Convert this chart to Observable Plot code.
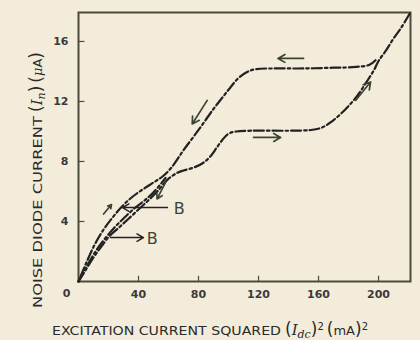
<!DOCTYPE html>
<html>
<head>
<meta charset="utf-8">
<script src="https://cdn.jsdelivr.net/npm/d3@7"></script>
<script src="https://cdn.jsdelivr.net/npm/@observablehq/plot@0.6"></script>
<style>
  html, body { margin: 0; padding: 0; background: #f3ecdb; }
  #chart { width: 420px; height: 340px; }
</style>
</head>
<body>
<div id="chart"></div>
<script>
// ---- data ----
const xTicks = [40, 80, 120, 160, 200];
const yTicks = [4, 8, 12, 16];

// outer loop, rising branch (lower plateau)
const ascX = [0, 5, 10, 15, 21, 27, 33, 40, 47, 53, 59, 65, 70, 77, 83, 88, 92, 96, 100, 105, 115, 140, 155, 162, 168, 174, 180, 186, 192, 197, 200, 205, 210, 215, 221];
const ascY = [0, 0.8, 1.6, 2.3, 3.07, 3.6, 4.15, 4.8, 5.45, 6.05, 6.75, 7.2, 7.4, 7.6, 7.9, 8.35, 8.9, 9.45, 9.85, 10.0, 10.05, 10.05, 10.1, 10.25, 10.6, 11.1, 11.7, 12.4, 13.3, 14.1, 14.7, 15.4, 16.2, 16.9, 17.9];

// outer loop, falling branch (upper plateau)
const descX = [198, 194, 185, 170, 150, 130, 118, 112, 106, 101, 97, 90, 80, 70, 62, 56, 50, 43, 36, 29, 23, 17, 11, 5, 0];
const descY = [14.75, 14.45, 14.3, 14.25, 14.2, 14.2, 14.15, 13.95, 13.5, 12.9, 12.4, 11.5, 10.1, 8.75, 7.6, 7.0, 6.6, 6.15, 5.65, 5.0, 4.3, 3.5, 2.5, 1.2, 0];

// inner curve B
const bX = [0, 6, 12, 18, 24, 30, 37, 44, 51, 58];
const bY = [0, 1.1, 2.1, 2.9, 3.6, 4.2, 4.85, 5.4, 6.05, 6.9];

// direction arrows
const arrX1 = [150, 116.7, 85.8, 184.7, 16.7, 58];
const arrY1 = [14.87, 9.6, 12.07, 12.07, 4.5, 6.6];
const arrX2 = [133, 134.7, 75.8, 194.7, 22, 52.4];
const arrY2 = [14.87, 9.6, 10.5, 13.3, 5.13, 5.5];

// "B" pointers
const bArrX1 = [59.3, 21.3];
const bArrY1 = [4.93, 2.93];
const bArrX2 = [29.3, 43.3];
const bArrY2 = [4.93, 2.93];
const bLabelX = [63.5, 45.5];
const bLabelY = [4.87, 2.87];
const bLabelText = ["B", "B"];

// ---- build tables ----
const rows = [
  ...ascX.map((x, i) => ({s: "asc", x, y: ascY[i]})),
  ...descX.map((x, i) => ({s: "desc", x, y: descY[i]})),
  ...bX.map((x, i) => ({s: "b", x, y: bY[i]}))
];
const arrows = arrX1.map((x1, i) => ({x1, y1: arrY1[i], x2: arrX2[i], y2: arrY2[i]}));
const bArrows = bArrX1.map((x1, i) => ({x1, y1: bArrY1[i], x2: bArrX2[i], y2: bArrY2[i]}));
const bLabels = bLabelX.map((x, i) => ({x, y: bLabelY[i], t: bLabelText[i]}));

const ink = "#222";
const olive = "#3c4434";

const chart = Plot.plot({
  width: 420,
  height: 340,
  marginLeft: 78,
  marginRight: 10,
  marginTop: 12,
  marginBottom: 59,
  x: {domain: [0, 221.3]},
  y: {domain: [0, 17.93]},
  style: {background: "#f3ecdb", fontFamily: "DejaVu Sans", fontSize: "11px", color: "#333"},
  marks: [
    Plot.ruleX(xTicks, {y1: 0, y2: 0.35, stroke: "#4b4b3c", strokeWidth: 1.2}),
    Plot.ruleY(yTicks, {x1: 0, x2: 4.3, stroke: "#4b4b3c", strokeWidth: 1.2}),
    Plot.frame({stroke: "#4b4b3c", strokeWidth: 2}),
    Plot.axisX(xTicks, {tickSize: 0, tickPadding: 9, label: null, fill: "#3a3a3a", fontWeight: "bold"}),
    Plot.axisY(yTicks, {tickSize: 0, tickPadding: 10, label: null, fill: "#3a3a3a", fontWeight: "bold"}),
    Plot.axisY([0], {tickSize: 0, tickPadding: 8, dy: 12, label: null, fill: "#3a3a3a", fontWeight: "bold"}),
    Plot.line(rows, {x: "x", y: "y", z: "s", stroke: ink, strokeWidth: 2.2, strokeDasharray: "10,3,2.5,3", curve: "catmull-rom"}),
    Plot.arrow(arrows, {x1: "x1", y1: "y1", x2: "x2", y2: "y2", stroke: olive, strokeWidth: 1.7, headLength: 7, insetStart: 0, insetEnd: 0}),
    Plot.arrow(bArrows, {x1: "x1", y1: "y1", x2: "x2", y2: "y2", stroke: ink, strokeWidth: 1.4, headLength: 8, insetStart: 0, insetEnd: 0}),
    Plot.text(bLabels, {x: "x", y: "y", text: "t", fontSize: 16, fill: olive, textAnchor: "start"})
  ]
});

document.getElementById("chart").appendChild(chart);

// ---- axis titles ----
const svg = d3.select(chart);
const xt = svg.append("text")
  .attr("x", 52).attr("y", 335)
  .attr("text-anchor", "start")
  .attr("fill", "#2a2a2a")
  .style("font-family", "DejaVu Sans")
  .style("font-size", "12.5px");
xt.append("tspan").attr("textLength", 229).attr("lengthAdjust", "spacingAndGlyphs").text("EXCITATION CURRENT SQUARED");
xt.append("tspan").attr("dx", 4).style("font-size", "17px").text("(");
xt.append("tspan").style("font-family", "DejaVu Serif").style("font-style", "italic").style("font-size", "15px").text("I");
xt.append("tspan").attr("dy", 3).style("font-family", "DejaVu Serif").style("font-style", "italic").style("font-size", "11px").text("dc");
xt.append("tspan").attr("dy", -3).style("font-size", "17px").text(")");
xt.append("tspan").attr("dy", -5).style("font-size", "10px").text("2");
xt.append("tspan").attr("dy", 5).attr("dx", 3).style("font-size", "17px").text("(");
xt.append("tspan").style("font-size", "13px").text("mA");
xt.append("tspan").style("font-size", "17px").text(")");
xt.append("tspan").attr("dy", -5).style("font-size", "10px").text("2");

const yt = svg.append("text")
  .attr("transform", "translate(42,308) rotate(-90)")
  .attr("text-anchor", "start")
  .attr("fill", "#2a2a2a")
  .style("font-family", "DejaVu Sans")
  .style("font-size", "12.5px");
yt.append("tspan").attr("textLength", 192).attr("lengthAdjust", "spacingAndGlyphs").text("NOISE DIODE CURRENT");
yt.append("tspan").attr("dx", 4).style("font-size", "17px").text("(");
yt.append("tspan").style("font-family", "DejaVu Serif").style("font-style", "italic").style("font-size", "15px").text("I");
yt.append("tspan").attr("dy", 3).style("font-family", "DejaVu Serif").style("font-style", "italic").style("font-size", "11px").text("n");
yt.append("tspan").attr("dy", -3).style("font-size", "17px").text(")");
yt.append("tspan").attr("dx", 3).style("font-size", "17px").text("(");
yt.append("tspan").style("font-family", "DejaVu Serif").style("font-style", "italic").style("font-size", "13px").text("μ");
yt.append("tspan").style("font-size", "13px").text("A");
yt.append("tspan").style("font-size", "17px").text(")");
</script>
</body>
</html>
